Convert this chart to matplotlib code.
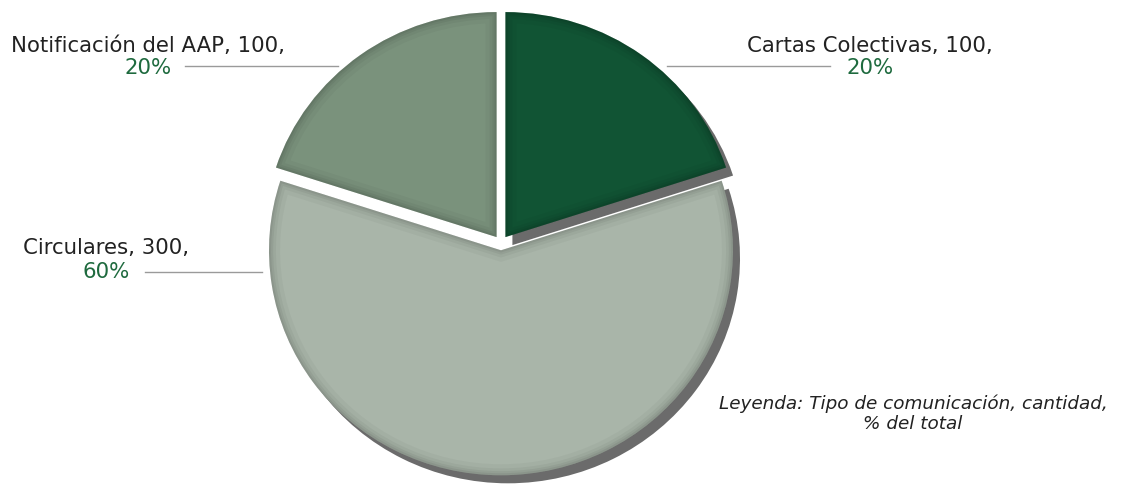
import matplotlib
matplotlib.use("Agg")
import matplotlib.pyplot as plt
from matplotlib.patches import PathPatch

# data
tipos = ["Cartas Colectivas", "Circulares", "Notificación del AAP"]
cantidades = [100, 300, 100]
colores = ["#115434", "#a9b5a9", "#7a927c"]
verde_pct = "#1e6a3e"

W, H = 1124, 487
SY = 0.97  # the pie is drawn slightly flatter than a circle
fig = plt.figure(figsize=(W / 100, H / 100), dpi=100)
ax = fig.add_axes([0, 0, 1, 1])


def Y(y):
    # image row -> data y (y up, squeezed by SY on screen)
    return (H - y) / SY


total = sum(cantidades)
pcts = [c / total * 100 for c in cantidades]

cx, cy, R = 501, Y(243), 232
explode = [7.5] * len(cantidades)  # pie explode is in data units (pixels here)

# drop shadow (only Cartas and Circulares show it)
sombra, _ = ax.pie(cantidades, explode=explode, startangle=90, counterclock=False,
                   center=(cx + 7, cy - 8 / SY), radius=R, colors=["#6b6b6b"] * 3,
                   frame=True)
sombra[2].set_visible(False)
for s in sombra:
    s.set_zorder(1)

cunas, _ = ax.pie(cantidades, explode=explode, startangle=90, counterclock=False,
                  center=(cx, cy), radius=R, colors=colores, frame=True)
for c in cunas:
    c.set_zorder(2)
    # soft inner bevel, clipped to the wedge
    for lw, a in [(16, 0.03), (10, 0.04), (6, 0.05), (3, 0.06)]:
        p = PathPatch(c.get_path(), transform=c.get_transform(), facecolor="none",
                      edgecolor="black", linewidth=lw, alpha=a, zorder=3)
        ax.add_patch(p)
        p.set_clip_path(c)

ax.set_xlim(0, W)
ax.set_ylim(0, H / SY)
ax.set_aspect("auto")
ax.axis("off")

fs = 15.3
txt = "#222222"
linea = "#9a9a9a"

# label positions (image pixel coords): text center x, line 1 y, line 2 y, leader line
etiquetas = {
    0: (870, 46, 68, (667, 830, 66)),
    1: (106, 248, 272, (145, 262, 272)),
    2: (148, 46, 68, (185, 338, 66)),
}
for i, (tx, y1, y2, (lx0, lx1, ly)) in etiquetas.items():
    ax.text(tx, Y(y1), f"{tipos[i]}, {cantidades[i]},", ha="center", va="center",
            fontsize=fs, color=txt, zorder=5)
    ax.text(tx, Y(y2), f"{pcts[i]:.0f}%", ha="center", va="center",
            fontsize=fs, color=verde_pct, zorder=5)
    ax.plot([lx0, lx1], [Y(ly), Y(ly)], color=linea, lw=1, zorder=4)

ax.text(913, Y(414), "Leyenda: Tipo de comunicación, cantidad,\n% del total",
        ha="center", va="center", fontsize=13.2, style="italic", color=txt,
        linespacing=1.15, zorder=5)

fig.savefig("out.png", dpi=100, facecolor="white")
